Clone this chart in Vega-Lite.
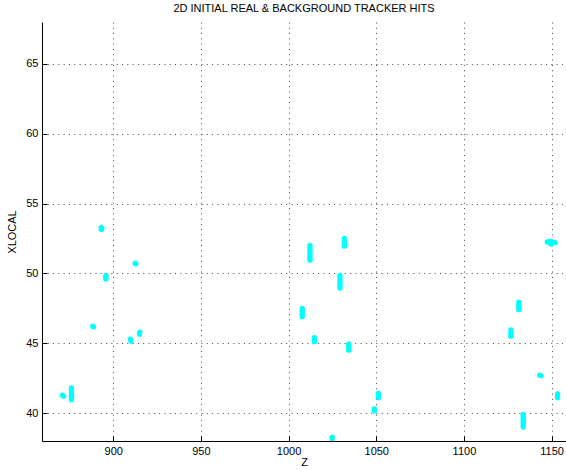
{
  "$schema": "https://vega.github.io/schema/vega-lite/v6.json",
  "width": 524,
  "height": 419,
  "autosize": {"type": "none"},
  "padding": {"left": 42, "top": 22, "right": 0, "bottom": 28},
  "background": "white",
  "title": {
    "text": "2D INITIAL REAL & BACKGROUND TRACKER HITS",
    "font": "Liberation Sans",
    "fontSize": 11,
    "fontWeight": "normal",
    "color": "#000000",
    "anchor": "middle",
    "offset": 8
  },
  "config": {
    "view": {"stroke": null},
    "axis": {
      "labelFont": "Liberation Sans",
      "titleFont": "Liberation Sans",
      "labelFontSize": 11,
      "titleFontSize": 11,
      "titleFontWeight": "normal",
      "labelColor": "#000000",
      "titleColor": "#000000",
      "domainColor": "#000000",
      "domainWidth": 1,
      "tickColor": "#000000",
      "tickSize": -5,
      "tickWidth": 1,
      "labelPadding": 9,
      "grid": true,
      "gridColor": "#333333",
      "gridDash": [1, 4.3],
      "gridWidth": 1,
      "gridOpacity": 0.9
    }
  },
  "data": {
    "values": [
      {"z": 893.2, "xlocal": 53.3}, {"z": 893.2, "xlocal": 53.15}, {"z": 893.5, "xlocal": 53.22},
      {"z": 912.5, "xlocal": 50.72}, {"z": 913.0, "xlocal": 50.68},
      {"z": 895.8, "xlocal": 49.85}, {"z": 895.8, "xlocal": 49.72}, {"z": 895.8, "xlocal": 49.6},
      {"z": 888.3, "xlocal": 46.22}, {"z": 888.8, "xlocal": 46.18},
      {"z": 915.2, "xlocal": 45.8}, {"z": 915.0, "xlocal": 45.65},
      {"z": 909.8, "xlocal": 45.3}, {"z": 910.2, "xlocal": 45.15},
      {"z": 871.0, "xlocal": 41.28}, {"z": 871.8, "xlocal": 41.2},
      {"z": 876.2, "xlocal": 41.8}, {"z": 876.2, "xlocal": 41.65}, {"z": 876.2, "xlocal": 41.5}, {"z": 876.2, "xlocal": 41.35}, {"z": 876.2, "xlocal": 41.2}, {"z": 876.2, "xlocal": 41.05}, {"z": 876.2, "xlocal": 40.95},
      {"z": 1012.2, "xlocal": 52.0}, {"z": 1012.2, "xlocal": 51.85}, {"z": 1012.2, "xlocal": 51.7}, {"z": 1012.2, "xlocal": 51.55}, {"z": 1012.2, "xlocal": 51.4}, {"z": 1012.2, "xlocal": 51.25}, {"z": 1012.2, "xlocal": 51.1}, {"z": 1012.2, "xlocal": 50.95},
      {"z": 1031.8, "xlocal": 52.5}, {"z": 1031.8, "xlocal": 52.35}, {"z": 1031.8, "xlocal": 52.2}, {"z": 1031.8, "xlocal": 52.05}, {"z": 1031.8, "xlocal": 51.95},
      {"z": 1029.3, "xlocal": 49.85}, {"z": 1029.3, "xlocal": 49.7}, {"z": 1029.3, "xlocal": 49.55}, {"z": 1029.3, "xlocal": 49.4}, {"z": 1029.3, "xlocal": 49.25}, {"z": 1029.3, "xlocal": 49.1}, {"z": 1029.3, "xlocal": 48.95},
      {"z": 1007.8, "xlocal": 47.5}, {"z": 1007.8, "xlocal": 47.35}, {"z": 1007.8, "xlocal": 47.2}, {"z": 1007.8, "xlocal": 47.05}, {"z": 1007.8, "xlocal": 46.9},
      {"z": 1014.7, "xlocal": 45.4}, {"z": 1014.7, "xlocal": 45.25}, {"z": 1014.7, "xlocal": 45.1},
      {"z": 1034.3, "xlocal": 44.95}, {"z": 1034.3, "xlocal": 44.8}, {"z": 1034.3, "xlocal": 44.65}, {"z": 1034.3, "xlocal": 44.5},
      {"z": 1051.2, "xlocal": 41.4}, {"z": 1051.2, "xlocal": 41.25}, {"z": 1051.2, "xlocal": 41.1},
      {"z": 1048.9, "xlocal": 40.3}, {"z": 1048.9, "xlocal": 40.15},
      {"z": 1024.9, "xlocal": 38.28}, {"z": 1024.9, "xlocal": 38.15},
      {"z": 1147.5, "xlocal": 52.25}, {"z": 1149.0, "xlocal": 52.3}, {"z": 1150.5, "xlocal": 52.25}, {"z": 1152.0, "xlocal": 52.2}, {"z": 1149.5, "xlocal": 52.1},
      {"z": 1131.3, "xlocal": 47.95}, {"z": 1131.3, "xlocal": 47.8}, {"z": 1131.3, "xlocal": 47.65}, {"z": 1131.3, "xlocal": 47.5}, {"z": 1131.3, "xlocal": 47.4},
      {"z": 1126.8, "xlocal": 45.95}, {"z": 1126.8, "xlocal": 45.8}, {"z": 1126.8, "xlocal": 45.65}, {"z": 1126.8, "xlocal": 45.5},
      {"z": 1143.2, "xlocal": 42.72}, {"z": 1144.0, "xlocal": 42.68},
      {"z": 1153.4, "xlocal": 41.38}, {"z": 1153.4, "xlocal": 41.22}, {"z": 1153.4, "xlocal": 41.1},
      {"z": 1133.8, "xlocal": 39.9}, {"z": 1133.8, "xlocal": 39.75}, {"z": 1133.8, "xlocal": 39.6}, {"z": 1133.8, "xlocal": 39.45}, {"z": 1133.8, "xlocal": 39.3}, {"z": 1133.8, "xlocal": 39.15}, {"z": 1133.8, "xlocal": 39.0}
    ]
  },
  "mark": {"type": "point", "filled": true, "shape": "circle", "size": 28, "opacity": 1, "color": "#00FFFF", "clip": true},
  "encoding": {
    "x": {
      "field": "z",
      "type": "quantitative",
      "scale": {"domain": [859.4, 1158.2], "nice": false, "zero": false},
      "axis": {"title": "Z", "values": [900, 950, 1000, 1050, 1100, 1150], "format": "d", "titlePadding": 0}
    },
    "y": {
      "field": "xlocal",
      "type": "quantitative",
      "scale": {"domain": [38, 68], "nice": false, "zero": false},
      "axis": {"title": "XLOCAL", "values": [40, 45, 50, 55, 60, 65], "format": "d", "titlePadding": 8}
    }
  }
}
